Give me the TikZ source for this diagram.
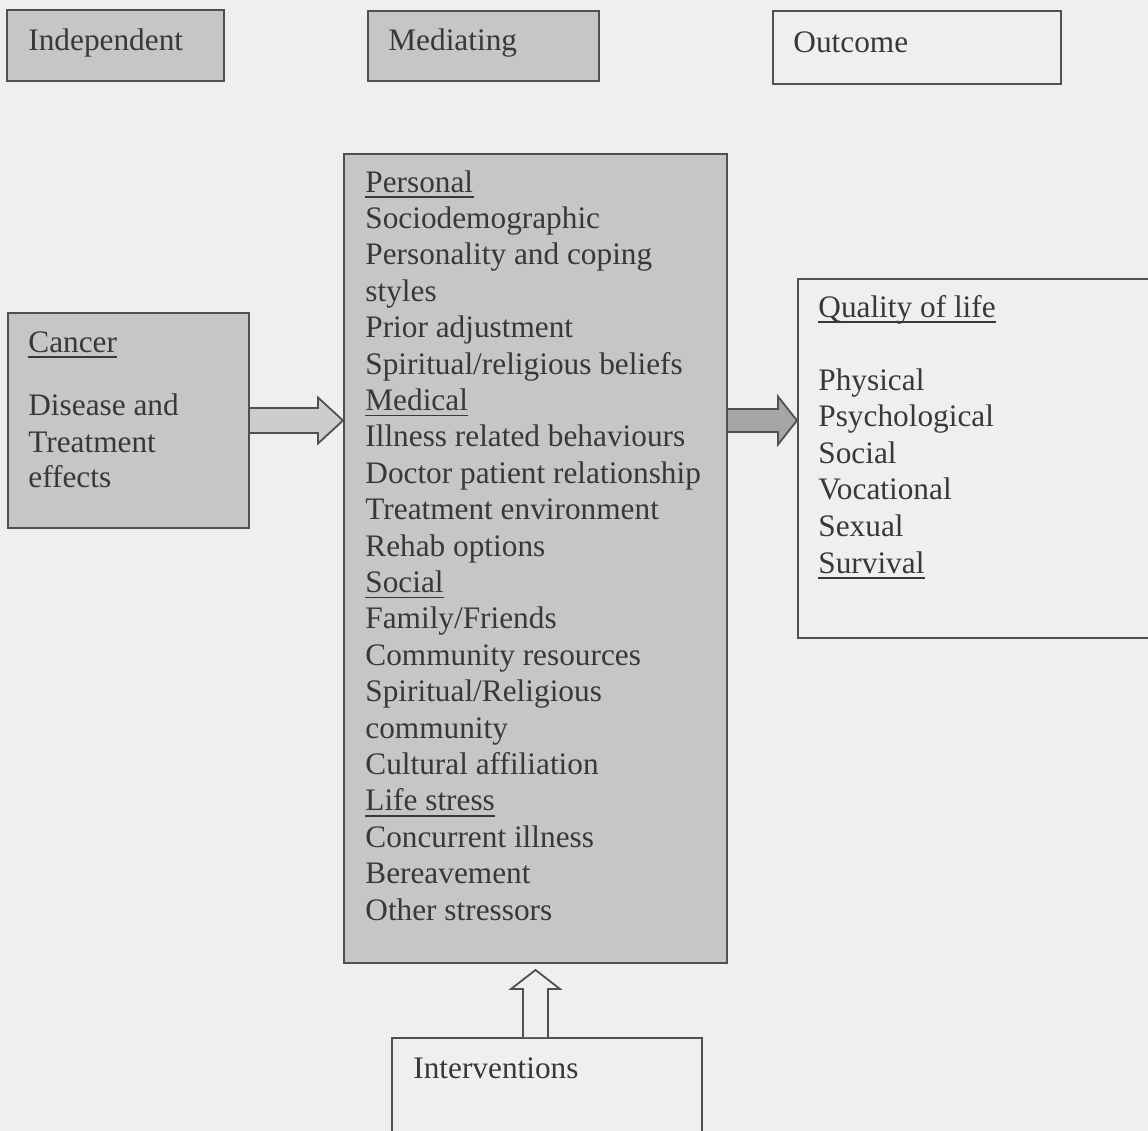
\documentclass[tikz,border=0pt]{standalone}
\usepackage{fontspec}
\setmainfont{Liberation Serif}
\usetikzlibrary{calc}
\definecolor{paper}{HTML}{EFEFEF}
\definecolor{boxgray}{HTML}{C6C6C6}
\definecolor{ink}{HTML}{383838}
\definecolor{edge}{HTML}{505050}
\definecolor{arrowdark}{HTML}{A6A6A6}
\definecolor{arrowlight}{HTML}{CDCDCD}

\begin{document}
\begin{tikzpicture}[x=0.5pt,y=-0.5pt,
  shaded box/.style={draw=edge, line width=1pt, fill=boxgray, inner sep=0pt, anchor=north west},
  plain box/.style={draw=edge, line width=1pt, fill=paper, inner sep=0pt, anchor=north west},
  entry/.style={anchor=base west, inner sep=0pt, text=ink, font=\fontsize{15.65}{18.25}\selectfont},
  underline rule/.style={draw=ink, line width=0.8pt},
  block arrow/.style={draw=edge, line width=0.9pt, line join=miter},
]
% page
\useasboundingbox (0,0) rectangle (1148,1131);
\clip (0,0) rectangle (1148,1131);
\fill[paper] (0,0) rectangle (1148,1131);

% legend boxes
\node[shaded box, minimum width=108.5pt, minimum height=35.5pt] (indep) at (6,9) {};
\node[shaded box, minimum width=115.5pt, minimum height=35pt] (mediat) at (367,10) {};
\node[plain box, minimum width=144pt, minimum height=36.5pt] (outc) at (772,10) {};
\node[entry] (tIndep) at (28,50) {Independent};
\node[entry] (tMediat) at (388,50) {Mediating};
\node[entry] (tOutc) at (793,52) {Outcome};

% main boxes
\node[shaded box, minimum width=120.5pt, minimum height=107.5pt] (cancer) at (7,312) {};
\node[shaded box, minimum width=191.5pt, minimum height=404.5pt] (med) at (343,153) {};
\node[plain box, minimum width=186.5pt, minimum height=179.5pt] (qol) at (797,278) {};
\node[plain box, minimum width=155pt, minimum height=56.5pt] (interv) at (391,1037) {};

% independent variable
\node[entry] (c1) at (28,352) {Cancer};
\node[entry] (c2) at (28,415) {Disease and};
\node[entry] (c3) at (28,452) {Treatment};
\node[entry] (c4) at (28,487) {effects};

% mediating variables
\foreach \txt [count=\i from 0] in {
  Personal, Sociodemographic, Personality and coping, styles,
  Prior adjustment, Spiritual/religious beliefs, Medical,
  Illness related behaviours, Doctor patient relationship,
  Treatment environment, Rehab options, Social, Family/Friends,
  Community resources, Spiritual/Religious, community, Cultural affiliation,
  Life stress, Concurrent illness, Bereavement, Other stressors}
  \node[entry] (m\i) at (365,192+36.4*\i) {\txt};

% outcome
\node[entry] (q0) at (818,317) {Quality of life};
\foreach \txt [count=\i from 1] in {Physical, Psychological, Social, Vocational, Sexual}
  \node[entry] (q\i) at (818,353.5+36.6*\i) {\txt};
\node[entry] (q6) at (818,573) {Survival};

% interventions
\node[entry] (tInterv) at (413,1078) {Interventions};

% headings are underlined
\foreach \n in {c1, m0, m6, m11, m17, q0, q6}
  \draw[underline rule] ($(\n.base west)+(0,5)$) -- ($(\n.base east)+(0,5)$);

% block arrows
\draw[block arrow, fill=arrowlight]
  ($(cancer.east)+(0,-12.5)$) -- ($(med.west |- cancer.east)+(-25,-12.5)$)
  -- ($(med.west |- cancer.east)+(-25,-23)$) -- (med.west |- cancer.east)
  -- ($(med.west |- cancer.east)+(-25,23)$) -- ($(med.west |- cancer.east)+(-25,12.5)$)
  -- ($(cancer.east)+(0,12.5)$);
\draw[block arrow, fill=arrowdark]
  ($(med.east |- cancer.east)+(0,-11.5)$) -- ($(qol.west |- cancer.east)+(-19,-11.5)$)
  -- ($(qol.west |- cancer.east)+(-19,-24)$) -- (qol.west |- cancer.east)
  -- ($(qol.west |- cancer.east)+(-19,24)$) -- ($(qol.west |- cancer.east)+(-19,11.5)$)
  -- ($(med.east |- cancer.east)+(0,11.5)$);
\draw[block arrow, fill=paper]
  ($(med.south |- interv.north)+(-12.5,0)$) -- ($(med.south)+(-12.5,25)$)
  -- ($(med.south)+(-24.5,25)$) -- ($(med.south)+(0,6)$)
  -- ($(med.south)+(24.5,25)$) -- ($(med.south)+(12.5,25)$)
  -- ($(med.south |- interv.north)+(12.5,0)$);
\end{tikzpicture}
\end{document}
